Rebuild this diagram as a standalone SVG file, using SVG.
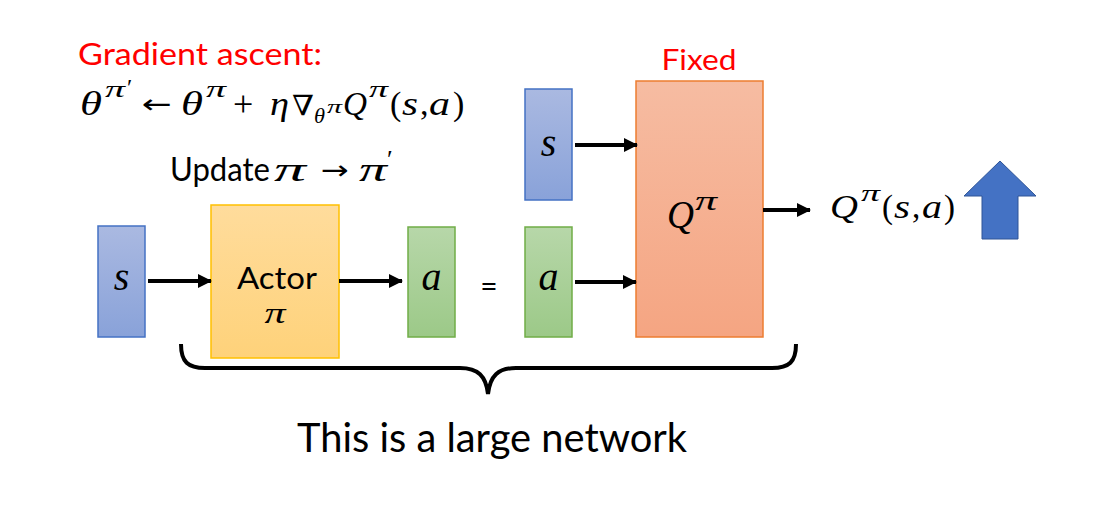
<svg xmlns="http://www.w3.org/2000/svg" width="1096" height="510" viewBox="0 0 1096 510">
<defs>
<linearGradient id="gBlue" x1="0" y1="0" x2="0" y2="1"><stop offset="0" stop-color="#AAB9E1"/><stop offset="1" stop-color="#89A2D9"/></linearGradient>
<linearGradient id="gGreen" x1="0" y1="0" x2="0" y2="1"><stop offset="0" stop-color="#B7D7A9"/><stop offset="1" stop-color="#9CC988"/></linearGradient>
<linearGradient id="gYellow" x1="0" y1="0" x2="0" y2="1"><stop offset="0" stop-color="#FFDC9C"/><stop offset="1" stop-color="#FED27A"/></linearGradient>
<linearGradient id="gOrange" x1="0" y1="0" x2="0" y2="1"><stop offset="0" stop-color="#F6BCA2"/><stop offset="1" stop-color="#F5A582"/></linearGradient>
<marker id="ah" markerUnits="userSpaceOnUse" markerWidth="14" markerHeight="14" refX="13" refY="7" orient="auto"><path d="M0,0 L14,7 L0,14 Z" fill="#000"/></marker>
</defs>
<style>
.sans{font-family:Lato,"Liberation Sans",sans-serif;}
.math{font-family:"Liberation Serif","DejaVu Serif",serif;font-style:italic;}
.up{font-style:normal;}
.arr{font-family:"DejaVu Sans",sans-serif;font-style:normal;}
.conn line{stroke:#000;stroke-width:4;marker-end:url(#ah);}
</style>
<rect width="1096" height="510" fill="#fff"/>

<text class="sans" x="78" y="65" font-size="30" fill="#FF0000" textLength="244" lengthAdjust="spacingAndGlyphs">Gradient ascent:</text>

<g id="formula" class="math" font-size="34" fill="#000">
<text x="80" y="115" textLength="22" lengthAdjust="spacingAndGlyphs">θ</text>
<text x="105" y="97" font-size="24" textLength="20" lengthAdjust="spacingAndGlyphs">π</text>
<text x="127" y="95" font-size="24" class="up">′</text>
<text x="142" y="113" class="arr" font-size="26" textLength="30" lengthAdjust="spacingAndGlyphs">←</text>
<text x="181" y="115" textLength="22" lengthAdjust="spacingAndGlyphs">θ</text>
<text x="206" y="97" font-size="24" textLength="20" lengthAdjust="spacingAndGlyphs">π</text>
<text x="233" y="116" class="up" font-size="36">+</text>
<text x="270" y="115" textLength="19" lengthAdjust="spacingAndGlyphs">η</text>
<text x="292" y="115" font-family="DejaVu Serif" font-size="28" textLength="22" lengthAdjust="spacingAndGlyphs">∇</text>
<text x="314" y="123" font-size="22" textLength="11" lengthAdjust="spacingAndGlyphs">θ</text>
<text x="327" y="113" font-size="18" textLength="15" lengthAdjust="spacingAndGlyphs">π</text>
<text x="343" y="115" textLength="24" lengthAdjust="spacingAndGlyphs">Q</text>
<text x="369" y="97" font-size="24" textLength="19" lengthAdjust="spacingAndGlyphs">π</text>
<text x="390" y="115" class="up">(</text>
<text x="402" y="115" textLength="16" lengthAdjust="spacingAndGlyphs">s</text>
<text x="420" y="115" class="up">,</text>
<text x="429" y="115" textLength="21" lengthAdjust="spacingAndGlyphs">a</text>
<text x="453" y="115" class="up">)</text>
</g>

<g id="update" font-size="33" fill="#000">
<text class="sans" x="170" y="181" textLength="100" lengthAdjust="spacingAndGlyphs">Update</text>
<text class="math" x="274" y="181" font-size="34" textLength="32" lengthAdjust="spacingAndGlyphs">π</text>
<text class="arr" x="321" y="179" font-size="26" textLength="28" lengthAdjust="spacingAndGlyphs">→</text>
<text class="math" x="359" y="181" font-size="34" textLength="28" lengthAdjust="spacingAndGlyphs">π</text>
<text class="math up" x="387" y="168" font-size="26">′</text>
</g>

<g id="s1">
<rect x="98" y="226" width="47" height="111" fill="url(#gBlue)" stroke="#4472C4" stroke-width="1.5"/>
<text class="math" x="121.5" y="290" font-size="40" text-anchor="middle">s</text>
</g>
<g id="actor">
<rect x="211" y="205" width="128" height="153" fill="url(#gYellow)" stroke="#FFC000" stroke-width="1.5"/>
<text class="sans" x="277" y="289" font-size="31" text-anchor="middle" textLength="80" lengthAdjust="spacingAndGlyphs">Actor</text>
<text class="math" x="275" y="323" font-size="30" text-anchor="middle" textLength="21" lengthAdjust="spacingAndGlyphs">π</text>
</g>
<g id="a1">
<rect x="408" y="227" width="47" height="110" fill="url(#gGreen)" stroke="#70AD47" stroke-width="1.5"/>
<text class="math" x="431.5" y="290" font-size="40" text-anchor="middle">a</text>
</g>
<text class="sans" x="489" y="297" font-size="30" text-anchor="middle">=</text>
<g id="a2">
<rect x="525" y="227" width="47" height="110" fill="url(#gGreen)" stroke="#70AD47" stroke-width="1.5"/>
<text class="math" x="548.5" y="290" font-size="40" text-anchor="middle">a</text>
</g>
<g id="s2">
<rect x="525" y="89" width="47" height="111" fill="url(#gBlue)" stroke="#4472C4" stroke-width="1.5"/>
<text class="math" x="548.5" y="156" font-size="40" text-anchor="middle">s</text>
</g>
<g id="q">
<rect x="636" y="81" width="127" height="256" fill="url(#gOrange)" stroke="#ED7D31" stroke-width="1.5"/>
<text class="math" x="667" y="228" font-size="40" textLength="27" lengthAdjust="spacingAndGlyphs">Q</text>
<text class="math" x="695" y="210" font-size="28" textLength="22" lengthAdjust="spacingAndGlyphs">π</text>
<text class="sans" x="699" y="70" font-size="29" fill="#FF0000" text-anchor="middle" textLength="75" lengthAdjust="spacingAndGlyphs">Fixed</text>
</g>

<g id="output" class="math" font-size="33">
<text x="830" y="218" textLength="28" lengthAdjust="spacingAndGlyphs">Q</text>
<text x="861" y="201" font-size="23" textLength="19" lengthAdjust="spacingAndGlyphs">π</text>
<text class="up" x="882" y="218">(</text>
<text x="894" y="218" textLength="16" lengthAdjust="spacingAndGlyphs">s</text>
<text class="up" x="912" y="218">,</text>
<text x="922" y="218" textLength="20" lengthAdjust="spacingAndGlyphs">a</text>
<text class="up" x="944" y="218">)</text>
</g>

<g id="uparrow">
<path d="M1000,161 L1036,196 L1018,196 L1018,239 L982,239 L982,196 L964,196 Z" fill="#4472C4" stroke="#2F5597" stroke-width="1"/>
</g>

<g class="conn">
<line x1="148" y1="281" x2="211" y2="281"/>
<line x1="339" y1="281" x2="402" y2="281"/>
<line x1="575" y1="145" x2="637" y2="145"/>
<line x1="575" y1="282" x2="636" y2="282"/>
<line x1="763" y1="210" x2="810" y2="210"/>
</g>

<g id="brace">
<path d="M181,344 C181,362 188,368 205,368 L460,368 C478,368 486,376 488,394 C490,376 498,368 516,368 L772,368 C789,368 796,362 796,344" fill="none" stroke="#000" stroke-width="4"/>
</g>
<text class="sans" x="297" y="452" font-size="40" textLength="390" lengthAdjust="spacingAndGlyphs">This is a large network</text>
</svg>
